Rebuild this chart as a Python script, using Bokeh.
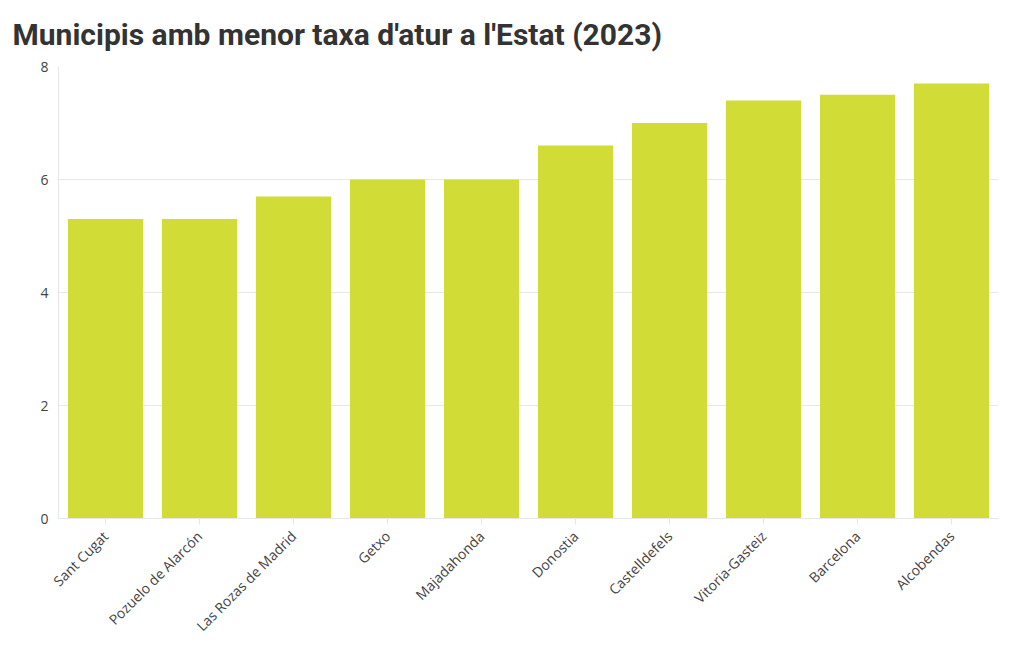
import math
from bokeh.plotting import figure
from bokeh.embed import file_html
from bokeh.resources import INLINE
from bokeh.models import ColumnDataSource, FixedTicker, Range1d

municipis = ["Sant Cugat", "Pozuelo de Alarcón", "Las Rozas de Madrid", "Getxo",
             "Majadahonda", "Donostia", "Castelldefels", "Vitoria-Gasteiz",
             "Barcelona", "Alcobendas"]
taxa = [5.3, 5.3, 5.7, 6.0, 6.0, 6.6, 7.0, 7.4, 7.5, 7.7]
y_ticks = [0, 2, 4, 6, 8]

src = ColumnDataSource(dict(x=municipis, y=taxa))

p = figure(x_range=municipis, y_range=Range1d(0, 8),
           frame_width=940, frame_height=452,
           output_backend="svg", toolbar_location=None,
           min_border_left=58, min_border_right=22, min_border_top=66,
           min_border_bottom=132)
p.title.text = "Municipis amb menor taxa d'atur a l'Estat (2023)"
p.title.text_font = "Roboto"
p.title.text_font_style = "bold"
p.title.text_font_size = "30px"
p.title.text_color = "#333333"
p.title.offset = -46
p.title.standoff = 29

p.vbar(x="x", top="y", width=0.8, source=src, color="#d2dc37", line_color=None)

p.x_range.range_padding = 0
p.outline_line_color = None
p.xgrid.grid_line_color = None
p.ygrid.grid_line_color = "#e8e8e8"
p.yaxis.ticker = FixedTicker(ticks=y_ticks)

for ax in (p.xaxis[0], p.yaxis[0]):
    ax.axis_line_color = "#e6e6e6"
    ax.major_tick_line_color = "#e6e6e6"
    ax.minor_tick_line_color = None
    ax.major_label_text_font = "Open Sans"
    ax.major_label_text_font_size = "14px"
    ax.major_label_text_color = "#444444"
p.yaxis.major_tick_out = 0
p.yaxis.major_tick_in = 0
p.xaxis.major_tick_out = 6
p.xaxis.major_tick_in = 0
p.xaxis.major_label_orientation = math.pi / 4
p.xaxis.major_label_standoff = 9
p.yaxis.major_label_standoff = 10

open("out.html", "w").write(file_html(p, INLINE))
